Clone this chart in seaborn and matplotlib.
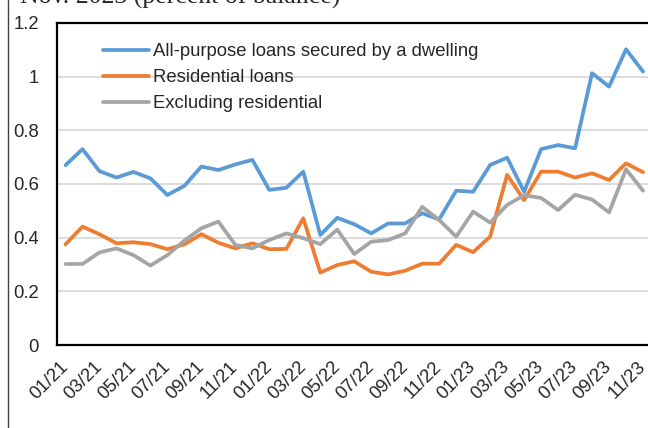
import numpy as np
import pandas as pd
import matplotlib
matplotlib.use("Agg")
import matplotlib.pyplot as plt
from matplotlib.lines import Line2D
import seaborn as sns

# Monthly observations, Jan 2021 through Nov 2023
months = [f"{m:02d}/{y}" for y in (21, 22, 23) for m in range(1, 13)][:35]

all_purpose = [0.67, 0.73, 0.648, 0.624, 0.645, 0.621, 0.559, 0.593, 0.665, 0.652,
               0.673, 0.69, 0.578, 0.586, 0.646, 0.41, 0.474, 0.45, 0.416, 0.453,
               0.453, 0.491, 0.468, 0.575, 0.571, 0.671, 0.698, 0.571, 0.73, 0.745,
               0.733, 1.013, 0.963, 1.102, 1.019]

residential = [0.375, 0.441, 0.413, 0.379, 0.383, 0.376, 0.357, 0.375, 0.413, 0.381,
               0.36, 0.379, 0.357, 0.358, 0.472, 0.27, 0.298, 0.312, 0.273, 0.263,
               0.277, 0.303, 0.303, 0.373, 0.346, 0.404, 0.634, 0.54, 0.646, 0.646,
               0.624, 0.64, 0.615, 0.677, 0.644]

excl_residential = [0.302, 0.302, 0.345, 0.36, 0.335, 0.296, 0.335, 0.389, 0.435, 0.46,
                    0.373, 0.36, 0.391, 0.416, 0.398, 0.376, 0.43, 0.339, 0.385, 0.391,
                    0.416, 0.515, 0.466, 0.404, 0.497, 0.456, 0.522, 0.558, 0.548, 0.503,
                    0.56, 0.542, 0.494, 0.655, 0.575]

series_names = ["All-purpose loans secured by a dwelling",
                "Residential loans",
                "Excluding residential"]
colors = ["#5B9BD5", "#ED7D31", "#A5A5A5"]
y_ticks = [0, 0.2, 0.4, 0.6, 0.8, 1, 1.2]
y_tick_labels = ["0", "0.2", "0.4", "0.6", "0.8", "1", "1.2"]

frames = []
for name, vals in zip(series_names, [all_purpose, residential, excl_residential]):
    frames.append(pd.DataFrame({"idx": np.arange(len(months)), "value": vals,
                                "series": name}))
df = pd.concat(frames, ignore_index=True)

sns.set_style("white")
plt.rcParams["font.family"] = ["Liberation Sans", "DejaVu Sans"]

W, H = 648, 428
fig = plt.figure(figsize=(W / 100, H / 100), dpi=100)
ax = fig.add_axes([57 / W, (H - 345) / H, (651.5 - 57) / W, (345 - 23) / H])

sns.lineplot(data=df, x="idx", y="value", hue="series", hue_order=series_names,
             palette=colors, linewidth=2.7, ax=ax, legend=False, zorder=3)

ax.set_xlim(-0.5, len(months) - 0.5)
ax.set_ylim(0, 1.2)
ax.set_yticks(y_ticks)
ax.set_yticklabels(y_tick_labels)
ax.set_xticks(np.arange(0, len(months), 2))
ax.set_xticklabels(months[::2], rotation=45, ha="right", va="center",
                   rotation_mode="anchor")
ax.set_xlabel("")
ax.set_ylabel("")

ax.tick_params(axis="y", length=0, pad=13, labelsize=13.3, labelcolor="#262626")
ax.tick_params(axis="x", length=0, pad=14, labelsize=13.3, labelcolor="#262626")

for y in y_ticks[1:-1]:
    ax.axhline(y, color="#d9d9d9", linewidth=1.3, zorder=1)

for side in ("top", "left", "bottom"):
    ax.spines[side].set_visible(True)
    ax.spines[side].set_color("black")
    ax.spines[side].set_linewidth(1.6)
ax.spines["right"].set_visible(False)

handles = [Line2D([0], [0], color=c, linewidth=2.7) for c in colors]
ax.legend(handles, series_names, loc="upper left",
          bbox_to_anchor=(103 / W, 1 - 43 / H), bbox_transform=fig.transFigure,
          frameon=False, fontsize=13.3, handlelength=2.5, handletextpad=0.2,
          labelspacing=0.5, borderpad=0, borderaxespad=0, labelcolor="#262626")

# Caption line above the chart and the outer frame edge
fig.text(20 / W, 1 - 4 / H, "Nov. 2023 (percent of balance)", fontsize=18.5,
         family=["Liberation Serif", "DejaVu Serif"], va="baseline", ha="left")
fig.add_artist(Line2D([7.5 / W, 7.5 / W], [0, 1], transform=fig.transFigure,
                      color="#404040", linewidth=1.0))

fig.savefig("out.png", dpi=100)
